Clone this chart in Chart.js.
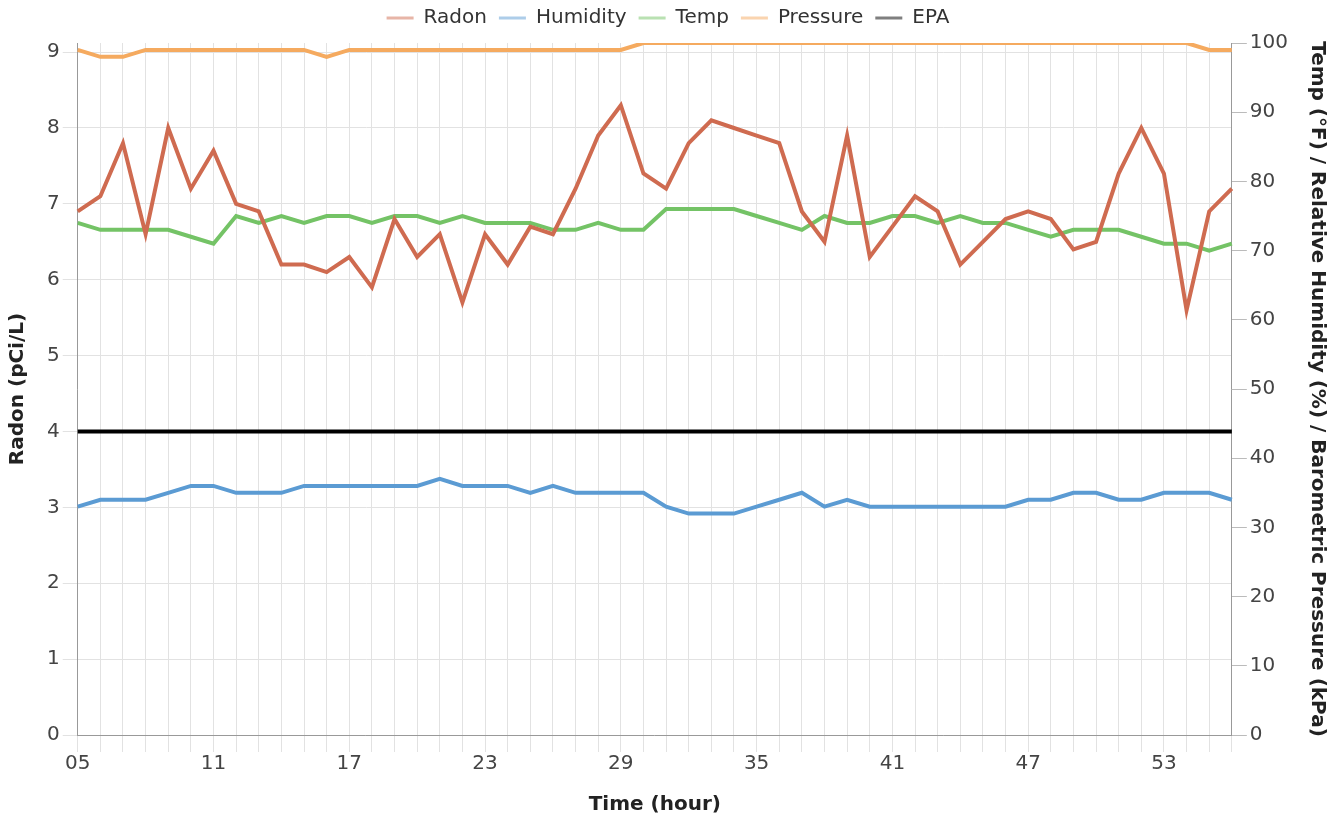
<!DOCTYPE html>
<html>
<head>
<meta charset="utf-8">
<script src="https://cdn.jsdelivr.net/npm/chart.js@4.4.1/dist/chart.umd.min.js"></script>
<style>
  html, body { margin: 0; padding: 0; background: #fff; }
  #wrap { width: 1338px; height: 819px; }
</style>
</head>
<body>
<div id="wrap"><canvas id="radonChart"></canvas></div>
<script>
const hours = ['05','06','07','08','09','10','11','12','13','14','15','16','17','18','19','20','21','22','23','24','25','26',
  '27','28','29','30','31','32','33','34','35','36','37','38','39','40','41','42','43','44','45','46','47','48','49','50',
  '51','52','53','54','55','56'];

const radon = [6.9, 7.1, 7.8, 6.6, 8.0, 7.2, 7.7, 7.0, 6.9, 6.2, 6.2, 6.1, 6.3, 5.9, 6.8, 6.3, 6.6, 5.7, 6.6, 6.2, 6.7, 6.6,
  7.2, 7.9, 8.3, 7.4, 7.2, 7.8, 8.1, 8.0, 7.9, 7.8, 6.9, 6.5, 7.9, 6.3, 6.7, 7.1, 6.9, 6.2, 6.5, 6.8, 6.9, 6.8, 6.4, 6.5,
  7.4, 8.0, 7.4, 5.6, 6.9, 7.2];

const humidity = [33, 34, 34, 34, 35, 36, 36, 35, 35, 35, 36, 36, 36, 36, 36, 36, 37, 36, 36, 36, 35, 36,
  35, 35, 35, 35, 33, 32, 32, 32, 33, 34, 35, 33, 34, 33, 33, 33, 33, 33, 33, 33, 34, 34, 35, 35,
  34, 34, 35, 35, 35, 34];

const temp = [74, 73, 73, 73, 73, 72, 71, 75, 74, 75, 74, 75, 75, 74, 75, 75, 74, 75, 74, 74, 74, 73,
  73, 74, 73, 73, 76, 76, 76, 76, 75, 74, 73, 75, 74, 74, 75, 75, 74, 75, 74, 74, 73, 72, 73, 73,
  73, 72, 71, 71, 70, 71];

const pressure = [99, 98, 98, 99, 99, 99, 99, 99, 99, 99, 99, 98, 99, 99, 99, 99, 99, 99, 99, 99, 99, 99,
  99, 99, 99, 100, 100, 100, 100, 100, 100, 100, 100, 100, 100, 100, 100, 100, 100, 100, 100, 100, 100, 100, 100, 100,
  100, 100, 100, 100, 99, 99];

const epa = [4, 4, 4, 4, 4, 4, 4, 4, 4, 4, 4, 4, 4, 4, 4, 4, 4, 4, 4, 4, 4, 4, 4, 4, 4, 4,
  4, 4, 4, 4, 4, 4, 4, 4, 4, 4, 4, 4, 4, 4, 4, 4, 4, 4, 4, 4, 4, 4, 4, 4, 4, 4];

Chart.defaults.font.family = 'DejaVu Sans';
Chart.defaults.font.size = 20;
Chart.defaults.color = '#444';

function line(label, data, color, light, axis) {
    return {
        label: label,
        data: data,
        borderColor: color,
        backgroundColor: light,
        borderWidth: 4,
        pointRadius: 0,
        tension: 0,
        fill: false,
        yAxisID: axis
    };
}

// extra gap under the legend
const legendGap = {
    id: 'legendGap',
    beforeInit(chart) {
        const fit = chart.legend.fit;
        chart.legend.fit = function () {
            fit.bind(chart.legend)();
            this.height += 5;
        };
    }
};

const ctx = document.getElementById('radonChart').getContext('2d');
const chart = new Chart(ctx, {
    type: 'line',
    data: {
        labels: hours,
        datasets: [
            line('Radon', radon, '#cf6b50', 'rgba(207,107,80,0.5)', 'y'),
            line('Humidity', humidity, '#5b9bd3', 'rgba(91,155,211,0.5)', 'y1'),
            line('Temp', temp, '#74c366', 'rgba(116,195,102,0.5)', 'y1'),
            line('Pressure', pressure, '#f5aa5f', 'rgba(245,170,95,0.5)', 'y1'),
            line('EPA', epa, '#000000', 'rgba(0,0,0,0.5)', 'y')
        ]
    },
    options: {
        responsive: true,
        maintainAspectRatio: false,
        animation: false,
        layout: { padding: { top: -4, right: 4, bottom: 0, left: 2 } },
        plugins: {
            legend: {
                position: 'top',
                labels: {
                    color: '#333',
                    boxWidth: 27,
                    boxHeight: 3,
                    padding: 12,
                    generateLabels: c => Chart.defaults.plugins.legend.labels.generateLabels(c)
                        .map(l => ({ ...l, lineWidth: 0 }))
                }
            },
            tooltip: { enabled: false }
        },
        scales: {
            x: {
                grid: { color: '#e2e2e2', tickLength: 17 },
                border: { color: '#999' },
                ticks: {
                    autoSkip: false,
                    maxRotation: 0,
                    padding: 0,
                    callback: (val, i) => i % 6 === 0 ? hours[i] : ''
                },
                title: { display: true, text: 'Time (hour)', color: '#222', font: { weight: 'bold' },
                    padding: { top: 17, bottom: 2 } }
            },
            y: {
                position: 'left',
                min: 0,
                max: 9.12,
                grid: { color: '#e2e2e2', tickLength: 15 },
                border: { color: '#999' },
                ticks: { stepSize: 1, includeBounds: false },
                title: { display: true, text: 'Radon (pCi/L)', color: '#222', font: { weight: 'bold' },
                    padding: { top: 4, bottom: 14 } }
            },
            y1: {
                position: 'right',
                min: 0,
                max: 100,
                grid: { drawOnChartArea: false, color: '#bbb', tickLength: 15 },
                border: { color: '#999' },
                ticks: { stepSize: 10 },
                title: { display: true, text: 'Temp (°F) / Relative Humidity (%) / Barometric Pressure (kPa)', color: '#222',
                    font: { weight: 'bold' }, padding: { top: 5, bottom: 14 } }
            }
        }
    },
    plugins: [legendGap]
});
</script>
</body>
</html>
